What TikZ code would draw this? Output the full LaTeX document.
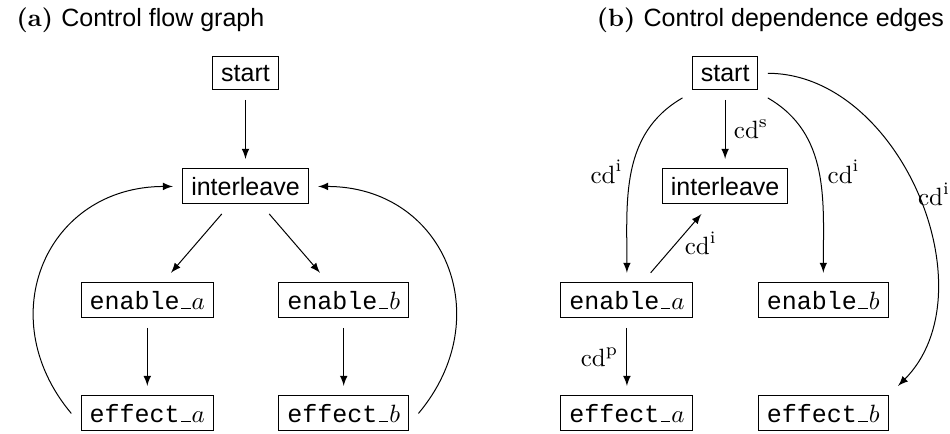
\documentclass[tikz,border=0pt]{standalone}
\usepackage{fontspec}
\setsansfont{Liberation Sans}
\setmonofont{Liberation Mono}

\tikzset{
    block/.style={draw, outer sep=4pt, font=\sffamily},
}
\newcommand{\cdtag}[1]{$\mathrm{cd}^{\mathrm{#1}}$}
% name with a low rule on the baseline, then the italic subscript letter
\newcommand{\evname}[2]{{\ttfamily #1}\kern.06em\rule{.38em}{.4pt}\kern.04em$#2$}

\begin{document}
\begin{tikzpicture}[>=latex]
    \useasboundingbox (0,0) rectangle (13.35,-6.09);

    % Titles
    \node[anchor=base west] (capa) at (0.11,-0.375) {\textbf{(a)} {\sffamily Control flow graph}};
    \node[anchor=base west] (capb) at (8.265,-0.375) {\textbf{(b)} {\sffamily Control dependence edges}};

    % Control flow graph
    \node[block] (fstart) at (3.45,-1.03) {start};
    \node[block] (finter) at (3.45,-2.62) {interleave};
    \node[block] (fena) at (2.07,-4.22) {\evname{enable}{a}};
    \node[block] (fenb) at (4.83,-4.22) {\evname{enable}{b}};
    \node[block] (fefa) at (2.07,-5.81) {\evname{effect}{a}};
    \node[block] (fefb) at (4.83,-5.81) {\evname{effect}{b}};

    \draw[->] (fstart) -- (finter);
    \draw[->] (finter) -- (fena);
    \draw[->] (finter) -- (fenb);
    \draw[->] (fena) -- (fefa);
    \draw[->] (fenb) -- (fefb);
    \draw[->] (fefa.west) to[out=130, in=180, looseness=1.3] (finter.west);
    \draw[->] (fefb.east) to[out=50, in=0, looseness=1.3] (finter.east);

    % Same nodes, with the control dependence edges
    \begin{scope}[xshift=6.74cm]
        \node[block] (dstart) at (3.45,-1.03) {start};
        \node[block] (dinter) at (3.45,-2.62) {interleave};
        \node[block] (dena) at (2.07,-4.22) {\evname{enable}{a}};
        \node[block] (denb) at (4.83,-4.22) {\evname{enable}{b}};
        \node[block] (defa) at (2.07,-5.81) {\evname{effect}{a}};
        \node[block] (defb) at (4.83,-5.81) {\evname{effect}{b}};

        \draw[->] (dstart) -- node[right] {\cdtag{s}} (dinter);
        \draw[->] (dstart) to[out=210, in=90] node[left] {\cdtag{i}} (dena);
        \draw[->] (dstart) to[out=-30, in=90] node[right] {\cdtag{i}} (denb);
        \draw[->] (dstart) to[out=0, in=45] node[right, inner sep=0pt] {\cdtag{i}} (defb.north east);
        \draw[->] (dena) -- node[right] {\cdtag{i}} (dinter);
        \draw[->] (dena) -- node[left] {\cdtag{p}} (defa);
    \end{scope}
\end{tikzpicture}
\end{document}
